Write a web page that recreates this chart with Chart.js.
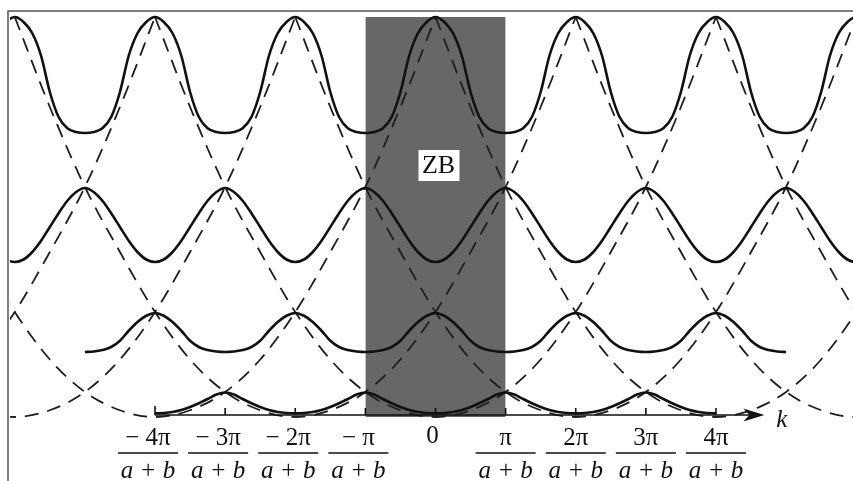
<!DOCTYPE html>
<html>
<head>
<meta charset="utf-8">
<script src="https://cdn.jsdelivr.net/npm/chart.js@4.4.1/dist/chart.umd.min.js"></script>
<style>
  html, body { margin: 0; padding: 0; background: #fff; }
  #wrap { position: relative; width: 853px; height: 481px; }
</style>
</head>
<body>
<div id="wrap"><canvas id="bands"></canvas></div>
<script>
// k in units of pi/(a+b)
const tick_k = [-4, -3, -2, -1, 0, 1, 2, 3, 4];
const tick_numerators = ["\u2212 4\u03c0", "\u2212 3\u03c0", "\u2212 2\u03c0", "\u2212 \u03c0", "0", "\u03c0", "2\u03c0", "3\u03c0", "4\u03c0"];
const tick_denominator = "a + b";

// free-electron parabolas (dashed)
const parabola_centers = [-8, -6, -4, -2, 0, 2, 4, 6, 8];
const parabola_dk = [0, 0.5, 1, 1.5, 2, 2.5, 3, 3.5, 4];
const parabola_e = [0, 0.27, 1.0, 2.3, 4.2, 6.6, 9.2, 12.4, 16.0];

// band profiles, from an even k (0) to the next odd k (1)
const profile_dk = [0, 0.125, 0.25, 0.375, 0.5, 0.625, 0.75, 0.875, 1];
const band1_e = [0.15, 0.16, 0.2, 0.28, 0.4, 0.55, 0.72, 0.9, 0.98];
const band2_e = [4.16, 4.05, 3.8, 3.45, 3.05, 2.8, 2.68, 2.62, 2.6];
const band3_e = [6.2, 6.3, 6.6, 7.05, 7.6, 8.15, 8.65, 9.0, 9.16];
const band4_e = [16.0, 15.8, 15.35, 14.45, 13.0, 12.0, 11.55, 11.4, 11.36];
const band_ranges = [[-4, 4], [-5, 5], [-6.5, 6.5], [-6.5, 6.5]];

const zone_k = [-1, 1];
const zone_top = 16.0;

function bandPoints(profile, range) {
  const step = profile_dk[1];
  const n = Math.round((range[1] - range[0]) / step);
  const pts = [];
  for (let i = 0; i <= n; i++) {
    const k = range[0] + i * step;
    const d = Math.abs(k - 2 * Math.round(k / 2));
    pts.push({ x: k, y: profile[Math.round(d / step)] });
  }
  return pts;
}

function parabolaPoints(c) {
  const pts = [];
  for (let i = parabola_dk.length - 1; i > 0; i--) pts.push({ x: c - parabola_dk[i], y: parabola_e[i] });
  for (let i = 0; i < parabola_dk.length; i++) pts.push({ x: c + parabola_dk[i], y: parabola_e[i] });
  return pts;
}

const solid = {
  borderColor: "#111",
  borderWidth: 2.6,
  cubicInterpolationMode: "monotone",
  clip: 0,
  order: 1
};

const band_datasets = [band1_e, band2_e, band3_e, band4_e].map((b, i) => ({
  ...solid,
  data: bandPoints(b, band_ranges[i])
}));

const parabola_datasets = parabola_centers.map(c => ({
  data: parabolaPoints(c),
  borderColor: "#1e1e1e",
  borderWidth: 1.8,
  borderDash: [14, 9],
  cubicInterpolationMode: "monotone",
  clip: 0,
  order: 2
}));

const zone_dataset = {
  data: zone_k.map(k => ({ x: k, y: zone_top })),
  borderWidth: 0,
  borderColor: "rgba(0,0,0,0)",
  backgroundColor: "#676767",
  fill: "origin",
  clip: 0,
  order: 10
};

const overlay = {
  id: "overlay",
  afterDatasetsDraw(chart) {
    const { ctx, chartArea, scales: { x, y } } = chart;
    ctx.save();

    // frame of the figure
    ctx.strokeStyle = "#555";
    ctx.lineWidth = 1.5;
    ctx.beginPath();
    ctx.moveTo(chartArea.left - 2, chart.height);
    ctx.lineTo(chartArea.left - 2, chartArea.top - 1);
    ctx.lineTo(chart.width, chartArea.top - 1);
    ctx.stroke();

    // ZB label
    const zx = x.getPixelForValue(0) + 3;
    const zy = y.getPixelForValue(10.08);
    ctx.fillStyle = "#fff";
    ctx.fillRect(zx - 20, zy - 15, 41, 31);
    ctx.fillStyle = "#111";
    ctx.font = '26px "Liberation Serif"';
    ctx.textAlign = "center";
    ctx.textBaseline = "middle";
    ctx.fillText("ZB", zx, zy + 1);

    // k axis with arrow
    const ay = y.getPixelForValue(0.08);
    const x0 = x.getPixelForValue(tick_k[0]);
    const xEnd = x.getPixelForValue(4.69);
    ctx.strokeStyle = "#111";
    ctx.lineWidth = 1.6;
    ctx.beginPath();
    ctx.moveTo(x0, ay);
    ctx.lineTo(xEnd - 12, ay);
    tick_k.forEach((k, i) => {
      const px = x.getPixelForValue(k);
      ctx.moveTo(px, ay);
      ctx.lineTo(px, ay - (i === 0 ? 9 : 7));
    });
    ctx.stroke();
    ctx.beginPath();
    ctx.moveTo(xEnd, ay);
    ctx.lineTo(xEnd - 21, ay - 6.5);
    ctx.lineTo(xEnd - 15, ay);
    ctx.lineTo(xEnd - 21, ay + 6.5);
    ctx.closePath();
    ctx.fill();

    ctx.font = 'italic 25px "Liberation Serif"';
    ctx.textAlign = "left";
    ctx.textBaseline = "alphabetic";
    ctx.fillText("k", xEnd + 12, ay + 12);

    // fraction tick labels
    ctx.textAlign = "center";
    tick_k.forEach((k, i) => {
      const cx = x.getPixelForValue(k) + (k < 0 ? -7 : 0);
      if (k === 0) {
        ctx.font = '25px "Liberation Serif"';
        ctx.fillText(tick_numerators[i], cx - 3, ay + 28);
        return;
      }
      ctx.font = '25px "Liberation Serif"';
      ctx.fillText(tick_numerators[i], cx, ay + 30);
      ctx.lineWidth = 1.4;
      ctx.beginPath();
      ctx.moveTo(cx - 30, ay + 38);
      ctx.lineTo(cx + 30, ay + 38);
      ctx.stroke();
      ctx.font = 'italic 25px "Liberation Serif"';
      ctx.fillText(tick_denominator, cx, ay + 63);
    });

    ctx.restore();
  }
};

new Chart(document.getElementById("bands").getContext("2d"), {
  type: "line",
  data: {
    datasets: [...band_datasets, ...parabola_datasets, zone_dataset]
  },
  options: {
    responsive: true,
    maintainAspectRatio: false,
    animation: false,
    layout: { padding: { left: 10, top: 12, right: 0, bottom: 0 } },
    elements: { point: { radius: 0 } },
    plugins: {
      legend: { display: false },
      tooltip: { enabled: false }
    },
    scales: {
      x: { type: "linear", min: -6.068, max: 5.954, display: false },
      y: { type: "linear", min: -2.56, max: 16.2, display: false }
    }
  },
  plugins: [overlay]
});
</script>
</body>
</html>
